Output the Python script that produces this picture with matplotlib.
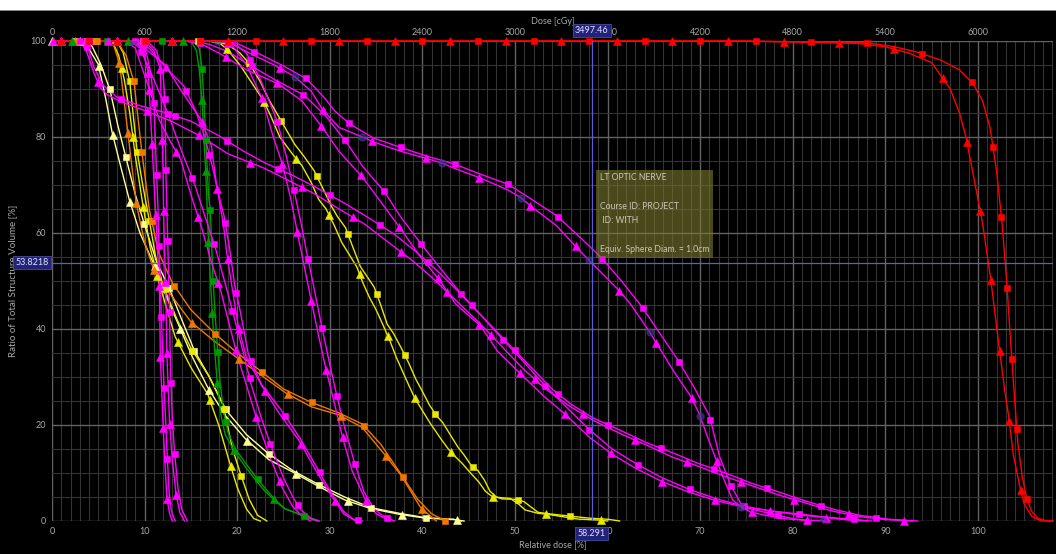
import numpy as np
import matplotlib
matplotlib.use("Agg")
import matplotlib.pyplot as plt
from matplotlib.patches import Rectangle

# ---------------- data (relative dose %, volume %) ----------------
red_sq_x = [0, 75, 82, 87.8, 91, 93.6, 96, 98, 99.5, 100.5, 101.3, 102, 102.6, 103.1, 103.5, 103.9, 104.3, 104.8, 105.3, 105.8, 106.5, 107.5, 108.1]
red_sq_y = [100, 100, 99.8, 99.7, 98.8, 97.6, 96, 94, 91, 87.5, 82, 73, 62, 50, 38, 27, 16.3, 9, 4.5, 2, 0.5, 0, 0]
red_tr_x = [0, 75, 82, 87, 90, 92.5, 95, 97, 98, 98.7, 99.5, 100.5, 101.4, 102.3, 102.9, 103.3, 103.8, 104.5, 105, 105.8, 106.8, 108.1]
red_tr_y = [100, 100, 99.7, 99.5, 98.8, 97.5, 95.5, 90, 85, 80, 72, 62, 50, 36, 27, 22, 14, 7.3, 3.5, 1, 0, 0]

ly_tr_x = [0, 3.0, 3.8, 5.0, 5.8, 6.5, 7.4, 8.35, 9.5, 11.0, 12.3, 13.75, 15.2, 16.8, 18.7, 20.9, 23.4, 26.1, 28.8, 31.6, 34.4, 37.5, 40.3, 43.4, 44.2]
ly_tr_y = [100, 100, 99, 95.1, 88, 80.9, 74, 66.9, 60, 53.5, 47, 40.5, 34, 27.9, 22, 17.1, 12.8, 10.1, 7.2, 4.4, 2.6, 1.4, 0.6, 0.35, 0]
ly_sq_x = [0, 3.3, 4.3, 5.3, 6.26, 7.1, 8.0, 9.0, 10.0, 11.3, 12.7, 14, 15.4, 17, 18.8, 21, 23.4, 26, 28.8, 31.6, 34.4, 37.5, 40.3, 43.4, 44.5]
ly_sq_y = [100, 100, 99, 95, 89.8, 82.5, 75.6, 68, 61.7, 54, 48.3, 42, 35.4, 30, 23.1, 18, 14, 10.5, 7.6, 5, 2.8, 1.6, 0.7, 0.3, 0]

y1_tr_x = [0, 6.5, 7.2, 7.8, 8.4, 9.0, 9.8, 10.6, 11.5, 13.3, 15, 16.8, 18, 19.1, 20, 21, 21.8, 22.5]
y1_tr_y = [100, 100, 97, 92, 85, 76, 66, 57, 50, 38.4, 32, 26.5, 20, 12.7, 7, 2.5, 0.5, 0]
y1_sq_x = [0, 7, 7.7, 8.4, 8.8, 9.2, 9.8, 10.5, 11.2, 12, 13.5, 15, 17, 18.5, 19.5, 20.4, 21.3, 22.2, 23.2]
y1_sq_y = [100, 100, 97.5, 91.5, 84, 76.9, 70, 62.7, 55, 49, 42, 36, 30, 24, 15, 9.6, 4.5, 1.2, 0]

or_tr_x = [0, 6.5, 7.3, 8.2, 9.1, 10, 11, 12.5, 15.0, 17.5, 20, 22.5, 25.3, 28, 31.0, 33.5, 35.9, 37.7, 39.8, 41.5]
or_tr_y = [100, 100, 95.3, 80.8, 66.2, 58, 52.3, 48, 41.5, 37.5, 34, 30.5, 26.6, 23.8, 22.1, 19.5, 13.9, 9.5, 2.8, 0]
or_sq_x = [0, 7, 8, 8.85, 9.7, 10.5, 11.5, 13.0, 15, 17.5, 20, 22.5, 25, 27.9, 31, 33.5, 35.5, 37.7, 39.5, 41, 42.5]
or_sq_y = [100, 100, 97, 91.5, 76.9, 65, 56, 49.6, 44, 39.2, 35, 31.3, 27.5, 24.8, 22.5, 20.2, 16, 9.7, 4.5, 1.5, 0]

gr_sq_x = [0, 15.3, 15.9, 16.2, 16.45, 16.7, 16.9, 17.1, 17.25, 17.4, 17.65, 17.9, 18.15, 18.5, 19, 19.8, 21, 22.2, 23.2, 24.2, 25.2, 26.5, 27.5, 28.9]
gr_sq_y = [100, 100, 98.5, 94.3, 86, 76, 68, 64.8, 57, 50, 42, 35.3, 29, 23, 18.5, 15, 11.8, 8.7, 6.4, 4.2, 2.5, 1.6, 0.9, 0]
gr_tr_x = [0, 15, 15.6, 15.9, 16.2, 16.4, 16.6, 16.75, 16.9, 17.1, 17.3, 17.55, 17.85, 18.2, 18.7, 19.6, 20.8, 22, 23.0, 23.9, 25, 26.3, 27.5, 28.6]
gr_tr_y = [100, 100, 98, 94, 87.7, 80, 73, 65.5, 58.2, 50.5, 43.5, 36, 28.7, 22.5, 18, 14.8, 11.5, 8.5, 6.2, 4.6, 2.7, 1.7, 0.7, 0]

p_tr_x = [0, 9.0, 9.8, 10.4, 10.6, 10.8, 11.0, 11.2, 11.4, 11.6, 11.65, 11.7, 11.85, 12.0, 12.2, 12.4, 12.7, 13.0]
p_tr_y = [100, 100, 98, 93.5, 86, 78.7, 71, 63.9, 56, 49.2, 42, 34.4, 27, 19.6, 12, 4.9, 1.5, 0]
p_sq_x = [0, 9.3, 10.2, 10.7, 11.0, 11.15, 11.3, 11.45, 11.55, 11.7, 11.8, 11.95, 12.1, 12.3, 12.45, 12.65, 12.9, 13.3]
p_sq_y = [100, 100, 97.5, 93, 87, 80, 72.2, 65, 57.5, 50, 42.7, 35, 28, 20, 13.3, 6, 2, 0]
q_tr_x = [0, 10, 11.0, 11.7, 11.8, 11.9, 12.0, 12.05, 12.15, 12.25, 12.35, 12.4, 12.55, 12.7, 13.0, 13.4, 13.8, 14.3]
q_tr_y = [100, 100, 98, 94.2, 87, 79.4, 72, 64.6, 57, 50, 42, 35, 27.5, 20.3, 12.5, 5.6, 1.8, 0]
q_sq_x = [0, 10.3, 11.3, 12.0, 12.2, 12.25, 12.3, 12.4, 12.5, 12.6, 12.7, 12.75, 12.85, 13.0, 13.25, 13.6, 14.0, 14.6]
q_sq_y = [100, 100, 98, 93, 88, 80, 73.1, 65.5, 58.2, 50.5, 43.4, 36, 28.7, 21, 14, 7, 2.5, 0]

r_tr_x = [0, 8, 9, 10.5, 11.6, 12.8, 13.9, 15, 16.1, 17.2, 18.25, 19.2, 20.1, 21.2, 22.3, 23.6, 24.9, 26, 27, 27.9]
r_tr_y = [100, 100, 98.5, 90, 83.5, 79, 75.3, 68, 61.5, 54, 47.8, 40.5, 33.9, 27, 20.1, 13, 6.8, 3, 1, 0]
r_sq_x = [0, 8.5, 9.5, 11, 12.5, 14, 15.4, 16.6, 17.7, 18.7, 19.65, 20.6, 21.5, 22.6, 23.8, 25, 26.0, 26.9, 28, 28.8]
r_sq_y = [100, 100, 98.5, 92, 85, 77, 70.2, 63, 56.5, 49.5, 42.6, 35.5, 28.5, 21.5, 14.9, 9, 5, 2.3, 0.5, 0]

s_sq_x = [0, 9, 10.5, 12.5, 14.25, 15.5, 16.5, 17.3, 18, 18.6, 19.2, 19.7, 20.4, 21.2, 22.6, 24.8, 26.7, 28.5, 29.5, 30.5, 31.5, 32.5, 33.5]
s_sq_y = [100, 100, 98.5, 94, 90.6, 85.5, 80, 74, 68, 63.4, 56.5, 49.5, 43, 34.8, 28.5, 23, 17.5, 11.5, 8, 4.8, 2, 0.4, 0]
s_tr_x = [0, 8.8, 10.3, 12.2, 14, 16.0, 17.2, 17.8, 18.5, 18.9, 19.5, 20.1, 21, 22.75, 24.5, 26.7, 28.5, 30.3, 31.5, 32.8]
s_tr_y = [100, 100, 98, 95.1, 89.5, 83.9, 78.3, 69.6, 62, 55.4, 48, 40.8, 34, 27.9, 22.5, 16.7, 10.5, 4.9, 1.5, 0]

t_sq_x = [0, 19, 20, 21, 22.5, 24.3, 25.3, 26.1, 26.9, 27.6, 28.3, 29.1, 29.9, 30.7, 31.6, 32.6, 33.7, 34.8, 36.0, 37]
t_sq_y = [100, 100, 99, 97.5, 92, 83.4, 76, 69.3, 62, 55.1, 48.5, 40.8, 33.5, 26.6, 19.5, 12.6, 6, 2.5, 0.7, 0]
t_tr_x = [0, 18.5, 19.5, 21, 22.7, 23.9, 24.9, 25.8, 26.5, 27.3, 28.0, 28.8, 29.6, 30.5, 31.35, 32.4, 33.9, 35, 36.5]
t_tr_y = [100, 100, 99, 95, 88, 80, 74.2, 67, 60.1, 52.5, 45.9, 38.5, 31.5, 24.5, 17.6, 10.5, 4.2, 1.5, 0]

y2_sq_x = [0, 17.5, 19, 20.3, 21.3, 22.5, 23.5, 24.5, 25.3, 26.2, 27.2, 28.3, 29.2, 30.2, 30.8, 31.7, 32.5, 33.3, 34.0, 34.8, 35.5, 36.2, 36.9, 37.7, 38.5, 39.3, 40.0, 40.75, 41.5, 42.2, 43, 43.8, 44.5, 45.3, 46.0, 46.7, 47.3, 48, 48.6, 50.2, 51, 51.8, 52.5, 54.1, 56, 58, 60.1, 61.3]
y2_sq_y = [100, 100, 99.2, 97.5, 95.3, 91.5, 87.5, 84.2, 81.5, 78.5, 76, 73, 69.5, 65.5, 63.5, 61.1, 57, 53, 51, 48.7, 45, 41, 39, 36.1, 33, 29.5, 27, 24.2, 22, 20.5, 18, 15.5, 13.75, 11.5, 10.5, 8.5, 6.2, 5, 4.6, 4.5, 4.0, 2.8, 1.8, 1.4, 1.0, 0.6, 0.35, 0]
y2_tr_x = [0, 17, 18.2, 18.9, 20.3, 21.5, 22.7, 23.6, 24.6, 25.95, 27, 28.0, 28.8, 29.6, 30.5, 31.3, 32.1, 32.9, 33.6, 34.3, 35, 35.8, 36.5, 37.2, 37.9, 38.55, 39.2, 40, 40.8, 42.0, 42.8, 43.5, 44.3, 45.2, 46.1, 46.8, 47.6, 49.5, 50.4, 51.1, 52.5, 53.5, 56.8, 59, 60]
y2_tr_y = [100, 100, 99.4, 98.3, 95, 91.5, 88, 84.5, 80, 76.5, 74, 70.5, 67, 65, 61.5, 58, 55.5, 53, 49.5, 46.5, 44, 40.6, 37.5, 34, 31, 28.2, 25.5, 23, 20.5, 17.1, 15, 13.5, 12, 10, 8.1, 6.2, 5, 4.7, 3.5, 2.3, 1.6, 1.4, 0.4, 0.2, 0]

a_sq_x = [0, 3.3, 3.9, 4.5, 5.5, 7, 9.2, 12, 15, 18, 20.55, 23, 26.1, 28.5, 31.6, 34.5, 37, 39.5, 41.9, 44, 46.5, 49, 51.5, 54, 56, 58.5, 61.6, 64.1, 67.3, 69.8, 73, 75.5, 78.7, 81.3, 84.5, 87.2, 90.4, 93.5]
a_sq_y = [100, 100, 98.5, 94.7, 90.8, 88.3, 86.7, 85.2, 83.3, 80.3, 77.2, 74.6, 71.9, 69.5, 66.2, 62.8, 59.7, 55.8, 51.6, 47.6, 42.5, 37.5, 32.5, 27.5, 24.4, 21.4, 18.7, 16.4, 14, 12, 9.8, 7.9, 5.9, 4.2, 2.4, 1.2, 0.35, 0]
a_tr_x = [0, 3.0, 3.7, 4.5, 5.2, 6.0, 7.5, 10, 13, 16, 19, 22.8, 25.5, 28.4, 31, 33.8, 36.5, 38.95, 41, 43.6, 46.3, 48.5, 51, 53.3, 56, 58.5, 61.6, 64.1, 67, 69.8, 72.5, 75.5, 78.5, 81.3, 84.2, 87.2, 90, 93]
a_tr_y = [100, 100, 98, 93.5, 90.3, 88.75, 87.3, 85.5, 83.2, 80.2, 76.5, 73.6, 71, 68.1, 65, 61.8, 57.8, 54.2, 50.8, 46, 41, 36.5, 31.5, 27.5, 23.8, 20.9, 18, 15.9, 13.3, 11.4, 9.4, 7.4, 5.4, 3.8, 2.1, 0.9, 0.3, 0]

b_sq_x = [0, 15, 17, 19, 21, 24, 27.2, 29.5, 31.7, 33.5, 35.9, 37.6, 39.9, 42, 44.2, 46.5, 48.6, 51, 53.3, 55.5, 58, 60.5, 63.2, 65.9, 68.8, 71.8, 74.7, 77.6, 80.5, 83.6, 86.5, 88.5]
b_sq_y = [100, 100, 99.3, 97.8, 95.4, 92, 88.75, 84.5, 79.2, 74, 68.6, 63.5, 57.6, 52.5, 47.3, 42.5, 38, 33, 28.1, 23.8, 19.1, 15, 11.8, 9, 6.6, 4.6, 3.1, 2.1, 1.5, 0.8, 0.35, 0]
b_tr_x = [0, 14.5, 16.5, 18.2, 21, 24.5, 27, 29.2, 31, 33.5, 35.5, 37.6, 39.8, 41.8, 43.6, 46.3, 48.1, 50.8, 53.0, 55.5, 58, 60.5, 63, 65.9, 68.8, 71.8, 74.7, 77.6, 80.5, 83.6, 86, 88]
b_tr_y = [100, 100, 99, 97.3, 94, 91, 87.5, 82, 77, 71.7, 66.5, 61, 55, 50.3, 45.2, 40.6, 35.4, 30.3, 26.2, 22.1, 17.5, 13.9, 11, 8.2, 6, 4.2, 2.9, 2.1, 1.3, 0.7, 0.2, 0]

c_sq_x = [0, 18.5, 20, 22.2, 25, 27.5, 29.5, 30.5, 32.1, 34.7, 37.7, 40.5, 43.4, 46.2, 49.2, 51.65, 54.5, 56.8, 59.2, 61.5, 63.6, 65.5, 67.5, 69.3, 71.0, 72.1, 73.2, 74.5, 75.5, 77, 78.3, 80, 82]
c_sq_y = [100, 100, 99.5, 97.5, 94.8, 92.1, 88, 85.5, 82.8, 79.8, 77.8, 76, 74.4, 72.3, 70.2, 67.2, 63.6, 59.5, 55.1, 50, 44.9, 39.5, 33.8, 28, 21.9, 13.4, 7.9, 3.2, 2.5, 1.8, 1.2, 0.5, 0]
c_tr_x = [0, 18, 19.5, 21.5, 24, 26.2, 28, 29.3, 31, 33.4, 34.7, 37.7, 40.5, 42.2, 43.4, 46.2, 49.2, 50.6, 51.65, 54.5, 56.5, 57.7, 59.2, 61, 62.4, 64.4, 65.2, 67.2, 69, 69.9, 70.8, 71.7, 72.6, 73.5, 74.5, 75.4, 77, 79, 81, 83.1, 84]
c_tr_y = [100, 100, 99.3, 97.3, 95, 92.6, 89.5, 85.5, 82, 80.1, 79, 77, 75.5, 74.5, 73.5, 71.5, 69, 67.4, 65.7, 61.5, 57.3, 54.9, 52, 48.5, 45.4, 39.8, 37.3, 31, 25.9, 22.3, 17.5, 12.9, 8.5, 4.4, 2.8, 1.9, 1.2, 0.5, 0.2, 0.1, 0]

cursor_dose_pct = 58.291
cursor_volume = 53.8218
prescription_cgy = 6000
structure_info = ["LT OPTIC NERVE", "", "Course ID: PROJECT", " ID: WITH", "", "Equiv. Sphere Diam. = 1.0cm"]

x_ticks = list(range(0, 101, 10))
y_ticks = list(range(0, 101, 20))
dose_ticks = list(range(0, 6001, 600))

# ---------------- styling ----------------
MAG = "#ff00ff"
RED = "#ff0000"
YEL = "#e8e800"
PALE = "#ffff9a"
ORA = "#f07800"
GRN = "#009a00"

curves = [
    # x, y, color, marker, marker offset
    (ly_tr_x, ly_tr_y, PALE, "^", 0.0),
    (ly_sq_x, ly_sq_y, PALE, "s", 2.5),
    (y2_tr_x, y2_tr_y, YEL, "^", 1.0),
    (y2_sq_x, y2_sq_y, YEL, "s", 3.8),
    (y1_tr_x, y1_tr_y, YEL, "^", 3.0),
    (y1_sq_x, y1_sq_y, YEL, "s", 4.7),
    (or_tr_x, or_tr_y, ORA, "^", 2.5),
    (or_sq_x, or_sq_y, ORA, "s", 4.9),
    (gr_tr_x, gr_tr_y, GRN, "^", 2.2),
    (gr_sq_x, gr_sq_y, GRN, "s", 5.9),
    (p_tr_x, p_tr_y, MAG, "^", 0.1),
    (p_sq_x, p_sq_y, MAG, "s", 3.0),
    (q_tr_x, q_tr_y, MAG, "^", 1.0),
    (q_sq_x, q_sq_y, MAG, "s", 3.8),
    (r_tr_x, r_tr_y, MAG, "^", 1.0),
    (r_sq_x, r_sq_y, MAG, "s", 4.0),
    (s_tr_x, s_tr_y, MAG, "^", 1.0),
    (s_sq_x, s_sq_y, MAG, "s", 4.0),
    (t_tr_x, t_tr_y, MAG, "^", 1.0),
    (t_sq_x, t_sq_y, MAG, "s", 4.0),
    (a_tr_x, a_tr_y, MAG, "^", 1.0),
    (a_sq_x, a_sq_y, MAG, "s", 4.0),
    (b_tr_x, b_tr_y, MAG, "^", 1.0),
    (b_sq_x, b_sq_y, MAG, "s", 4.0),
    (c_tr_x, c_tr_y, MAG, "^", 1.0),
    (c_sq_x, c_sq_y, MAG, "s", 4.0),
    (red_tr_x, red_tr_y, RED, "^", 1.0),
    (red_sq_x, red_sq_y, RED, "s", 4.0),
]

STEP = 6.0      # marker spacing along the curve
KY = 0.405      # weight of volume axis in arc length


def along(x, y, start, step):
    x = np.asarray(x, float)
    y = np.asarray(y, float)
    d = np.hypot(np.diff(x), np.diff(y) * KY)
    s = np.concatenate([[0.0], np.cumsum(d)])
    t = np.arange(start, s[-1], step)
    return np.interp(t, s, x), np.interp(t, s, y)


plt.rcParams["font.family"] = ["Lato", "DejaVu Sans"]
fig = plt.figure(figsize=(10.56, 5.54), dpi=100, facecolor="black")
ax = fig.add_axes([52 / 1056, 33 / 554, 1001 / 1056, 480 / 554])
ax.set_facecolor("black")

# white strip on top of window
fig.patches.append(Rectangle((0, 544 / 554), 1, 10 / 554, transform=fig.transFigure,
                             facecolor="white", edgecolor="none", zorder=0))
fig.patches.append(Rectangle((0, 543 / 554), 1, 1.2 / 554, transform=fig.transFigure,
                             facecolor="#8a8a8a", edgecolor="none", zorder=0))

ax.set_xlim(0, 108.1)
ax.set_ylim(0, 100)
ax.set_xticks(x_ticks)
ax.set_xticks(np.arange(0, 109, 1), minor=True)
ax.set_yticks(y_ticks)
ax.set_yticks(np.arange(0, 101, 5), minor=True)
ax.grid(which="minor", color="#343434", lw=0.8)
ax.grid(which="major", color="#626262", lw=1.0)
ax.set_axisbelow(True)
for sp in ax.spines.values():
    sp.set_visible(False)
ax.tick_params(which="both", length=0, labelsize=6.5, labelcolor="#a8a8a8", pad=4)
ax.set_xticklabels([str(v) for v in x_ticks])
ax.set_yticklabels([str(v) for v in y_ticks])

sec = ax.secondary_xaxis("top", functions=(lambda v: v * prescription_cgy / 100.0,
                                            lambda v: v * 100.0 / prescription_cgy))
sec.set_xticks(dose_ticks)
sec.set_xticklabels([str(v) for v in dose_ticks])
sec.tick_params(length=0, labelsize=6.5, labelcolor="#a8a8a8", pad=3)
for sp in sec.spines.values():
    sp.set_visible(False)
sec.set_xlabel("Dose [cGy]", fontsize=6.5, color="#a8a8a8", labelpad=3)

ax.set_xlabel("Relative dose [%]", fontsize=6.5, color="#a8a8a8", labelpad=3)
ax.set_ylabel("Ratio of Total Structure Volume [%]", fontsize=7, color="#a8a8a8", labelpad=10)

for i, (x, y, col, mk, off) in enumerate(curves):
    ax.plot(x, y, color=col, lw=1.0, zorder=3 + i * 0.01, clip_on=False, solid_joinstyle="round")
    mx, my = along(x, y, off, STEP)
    ms = 5.0 if mk == "s" else 5.5
    ax.plot(mx, my, ls="none", marker=mk, ms=ms, mfc=col, mec=col, mew=0.4,
            zorder=3.5 + i * 0.01, clip_on=False)

# faint dark-blue markers of the hidden plan
bx, by = along(c_tr_x, c_tr_y, 8.8, 9.0)
ax.plot(bx, by, ls="none", marker="o", ms=5, mfc="#3c3c8c", mec="#3c3c8c", alpha=0.6, zorder=4.5)

# crosshair
ax.axvline(cursor_dose_pct, color="#5c5cd6", lw=0.9, zorder=5)
ax.axhline(cursor_volume, color="#5c5cd6", lw=0.9, zorder=5)
lbl_box = dict(boxstyle="square,pad=0.25", fc="#23237a", ec="#4a4aa0", lw=0.6)
ax.annotate(f"{cursor_dose_pct * prescription_cgy / 100:.2f}", xy=(cursor_dose_pct, 1.0),
            xycoords=ax.get_xaxis_transform(), xytext=(0, 6), textcoords="offset pixels",
            ha="center", va="bottom", fontsize=6.5, color="#e0e0ff", bbox=lbl_box, zorder=10,
            annotation_clip=False)
ax.annotate(f"{cursor_dose_pct:.3f}", xy=(cursor_dose_pct, 0.0),
            xycoords=ax.get_xaxis_transform(), xytext=(0, -8), textcoords="offset pixels",
            ha="center", va="top", fontsize=6.5, color="#e0e0ff", bbox=lbl_box, zorder=10,
            annotation_clip=False)
ax.annotate(f"{cursor_volume:.4f}", xy=(0.0, cursor_volume),
            xycoords=ax.get_yaxis_transform(), xytext=(-3, 0), textcoords="offset pixels",
            ha="right", va="center", fontsize=6.5, color="#e0e0ff", bbox=lbl_box, zorder=10,
            annotation_clip=False)

# structure info box
ax.annotate("\n".join(structure_info), xy=(cursor_dose_pct, cursor_volume),
            xytext=(8, 9), textcoords="offset pixels", ha="left", va="bottom",
            fontsize=6.2, color="#c9c9b2", linespacing=1.75,
            bbox=dict(boxstyle="square,pad=0.45", fc="#7a7a30", ec="none", alpha=0.6), zorder=9)

fig.savefig("out.png", dpi=100, facecolor="black")
